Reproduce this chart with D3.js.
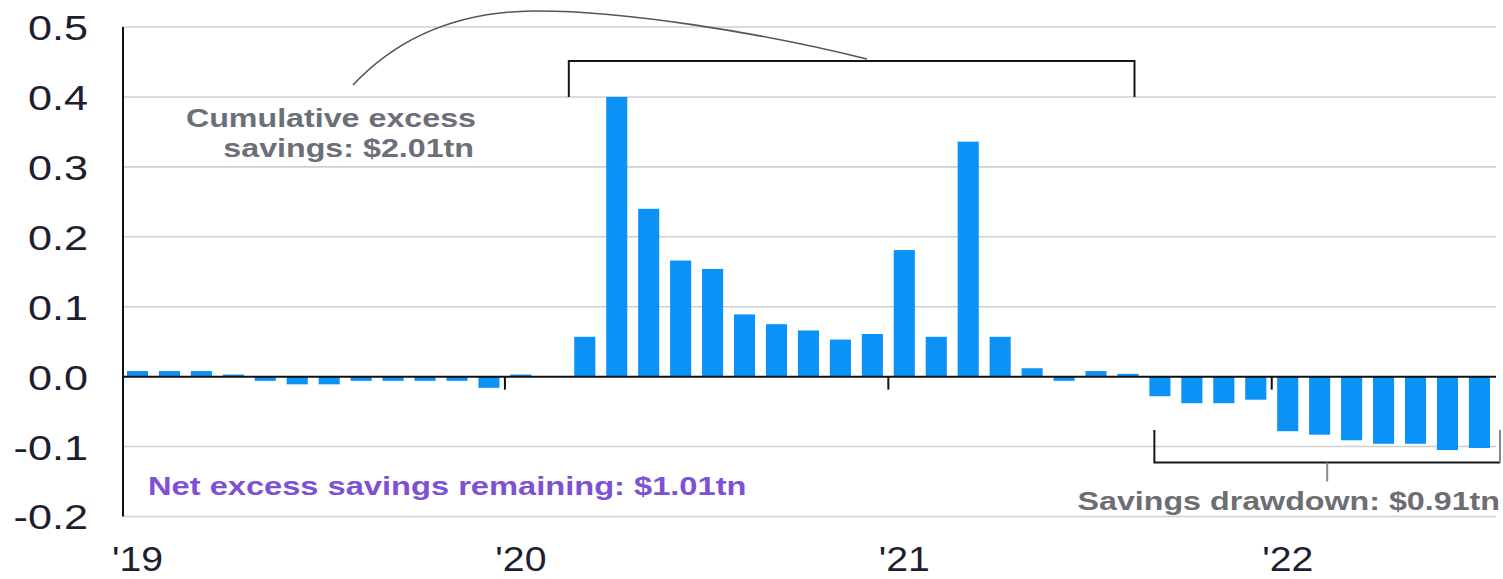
<!DOCTYPE html>
<html>
<head>
<meta charset="utf-8">
<script src="https://cdn.jsdelivr.net/npm/d3@7/dist/d3.min.js"></script>
<style>
  html, body { margin: 0; padding: 0; background: #fff; }
  svg { display: block; }
  text { font-family: "Liberation Sans", Arial, sans-serif; }
</style>
</head>
<body>
<svg id="chart" width="1503" height="579"></svg>
<script>
// Monthly excess savings, $tn (Jan 2019 – Jul 2022)
const months = [
  "2019-01","2019-02","2019-03","2019-04","2019-05","2019-06","2019-07","2019-08","2019-09","2019-10","2019-11","2019-12",
  "2020-01","2020-02","2020-03","2020-04","2020-05","2020-06","2020-07","2020-08","2020-09","2020-10","2020-11","2020-12",
  "2021-01","2021-02","2021-03","2021-04","2021-05","2021-06","2021-07","2021-08","2021-09","2021-10","2021-11","2021-12",
  "2022-01","2022-02","2022-03","2022-04","2022-05","2022-06","2022-07"
];
const excessSavings = [
  0.008, 0.008, 0.008, 0.003, -0.006, -0.011, -0.011, -0.006, -0.006, -0.006, -0.006, -0.016,
  0.003, 0.000, 0.057, 0.400, 0.240, 0.166, 0.154, 0.089, 0.075, 0.066, 0.053, 0.061,
  0.181, 0.057, 0.336, 0.057, 0.012, -0.006, 0.008, 0.004, -0.028, -0.038, -0.038, -0.033,
  -0.078, -0.083, -0.091, -0.096, -0.096, -0.105, -0.102
];
const yTicks = [0.5, 0.4, 0.3, 0.2, 0.1, 0.0, -0.1, -0.2];
const yearTicks = ["2019-01", "2020-01", "2021-01", "2022-01"];
const yearLabels = ["'19", "'20", "'21", "'22"];

const svg = d3.select("#chart");

const plotLeft = 123, plotRight = 1496;
const x = d3.scaleBand()
  .domain(months)
  .range([121.5, 1495.4])
  .paddingInner(0.34)
  .paddingOuter(0.17);
const y = d3.scaleLinear().domain([-0.2, 0.5]).range([516.5, 27]);
const gap = x.step() * x.paddingInner() / 2;

// gridlines
svg.append("g").selectAll("line").data(yTicks.filter(d => d !== 0)).join("line")
  .attr("x1", plotLeft).attr("x2", plotRight)
  .attr("y1", d => y(d)).attr("y2", d => y(d))
  .attr("stroke", "#cfcfd2").attr("stroke-width", 1.6);

// y-axis labels (plain hyphen for negatives)
svg.append("g").selectAll("text").data(yTicks).join("text")
  .attr("transform", d => `translate(88,${y(d)}) scale(1.2,1)`)
  .attr("text-anchor", "end")
  .attr("dy", "0.36em")
  .attr("font-size", 36)
  .attr("fill", "#1e1e30")
  .text(d => d.toFixed(1));

// bars
svg.append("g").selectAll("rect").data(months.map((m, i) => ({m, v: excessSavings[i]}))).join("rect")
  .attr("x", d => x(d.m))
  .attr("width", x.bandwidth())
  .attr("y", d => y(Math.max(0, d.v)))
  .attr("height", d => Math.abs(y(d.v) - y(0)))
  .attr("fill", "#0a92f7");

// y-axis line
svg.append("line")
  .attr("x1", plotLeft).attr("x2", plotLeft)
  .attr("y1", y(0.5)).attr("y2", y(-0.2))
  .attr("stroke", "#111").attr("stroke-width", 2);

// zero line with year ticks
svg.append("line")
  .attr("x1", plotLeft).attr("x2", plotRight)
  .attr("y1", y(0)).attr("y2", y(0))
  .attr("stroke", "#111").attr("stroke-width", 2);
svg.append("g").selectAll("line").data(yearTicks.slice(1)).join("line")
  .attr("x1", d => x(d) - gap).attr("x2", d => x(d) - gap)
  .attr("y1", y(0)).attr("y2", y(0) + 13)
  .attr("stroke", "#111").attr("stroke-width", 2);

// year labels
svg.append("g").selectAll("text").data(yearTicks).join("text")
  .attr("transform", d => `translate(${x(d) + x.bandwidth() / 2},571) scale(1.12,1)`)
  .attr("text-anchor", "middle")
  .attr("font-size", 35)
  .attr("fill", "#1e1e30")
  .text((d, i) => yearLabels[i]);

// bracket over the accumulation period
const bTop = 61;
const bL = x("2020-03") - gap, bR = x("2021-08") + x.bandwidth() - 4;
svg.append("path")
  .attr("d", `M${bL},${y(0.4)}V${bTop}H${bR}V${y(0.4)}`)
  .attr("fill", "none").attr("stroke", "#161616").attr("stroke-width", 2);

// callout curve to the bracket
svg.append("path")
  .attr("d", "M353,85 C400,35 460,12 532,11 C622,10 762,33 867,59")
  .attr("fill", "none").attr("stroke", "#555").attr("stroke-width", 1.6);

// bracket under the drawdown period
const dL = x("2021-09") + 5, dR = 1500, dY = 462.5;
svg.append("path")
  .attr("d", `M${dL},430V${dY}H${dR}`)
  .attr("fill", "none").attr("stroke", "#161616").attr("stroke-width", 2);
svg.append("line")
  .attr("x1", dR).attr("x2", dR).attr("y1", 430).attr("y2", dY)
  .attr("stroke", "#888").attr("stroke-width", 2);
svg.append("line")
  .attr("x1", (dL + dR) / 2).attr("x2", (dL + dR) / 2).attr("y1", dY).attr("y2", dY + 19)
  .attr("stroke", "#888").attr("stroke-width", 2);

// annotation text
function note(tx, ty, anchor, color, str, sx) {
  svg.append("text")
    .attr("transform", `translate(${tx},${ty}) scale(${sx || 1.24},1)`)
    .attr("text-anchor", anchor)
    .attr("font-size", 26)
    .attr("font-weight", "bold")
    .attr("fill", color)
    .text(str);
}
note(476, 127, "end", "#6c6e78", "Cumulative excess");
note(474, 157, "end", "#6c6e78", "savings: $2.01tn");
note(148, 495, "start", "#7d50d4", "Net excess savings remaining: $1.01tn", 1.255);
note(1500, 510, "end", "#6c6e72", "Savings drawdown: $0.91tn");
</script>
</body>
</html>
